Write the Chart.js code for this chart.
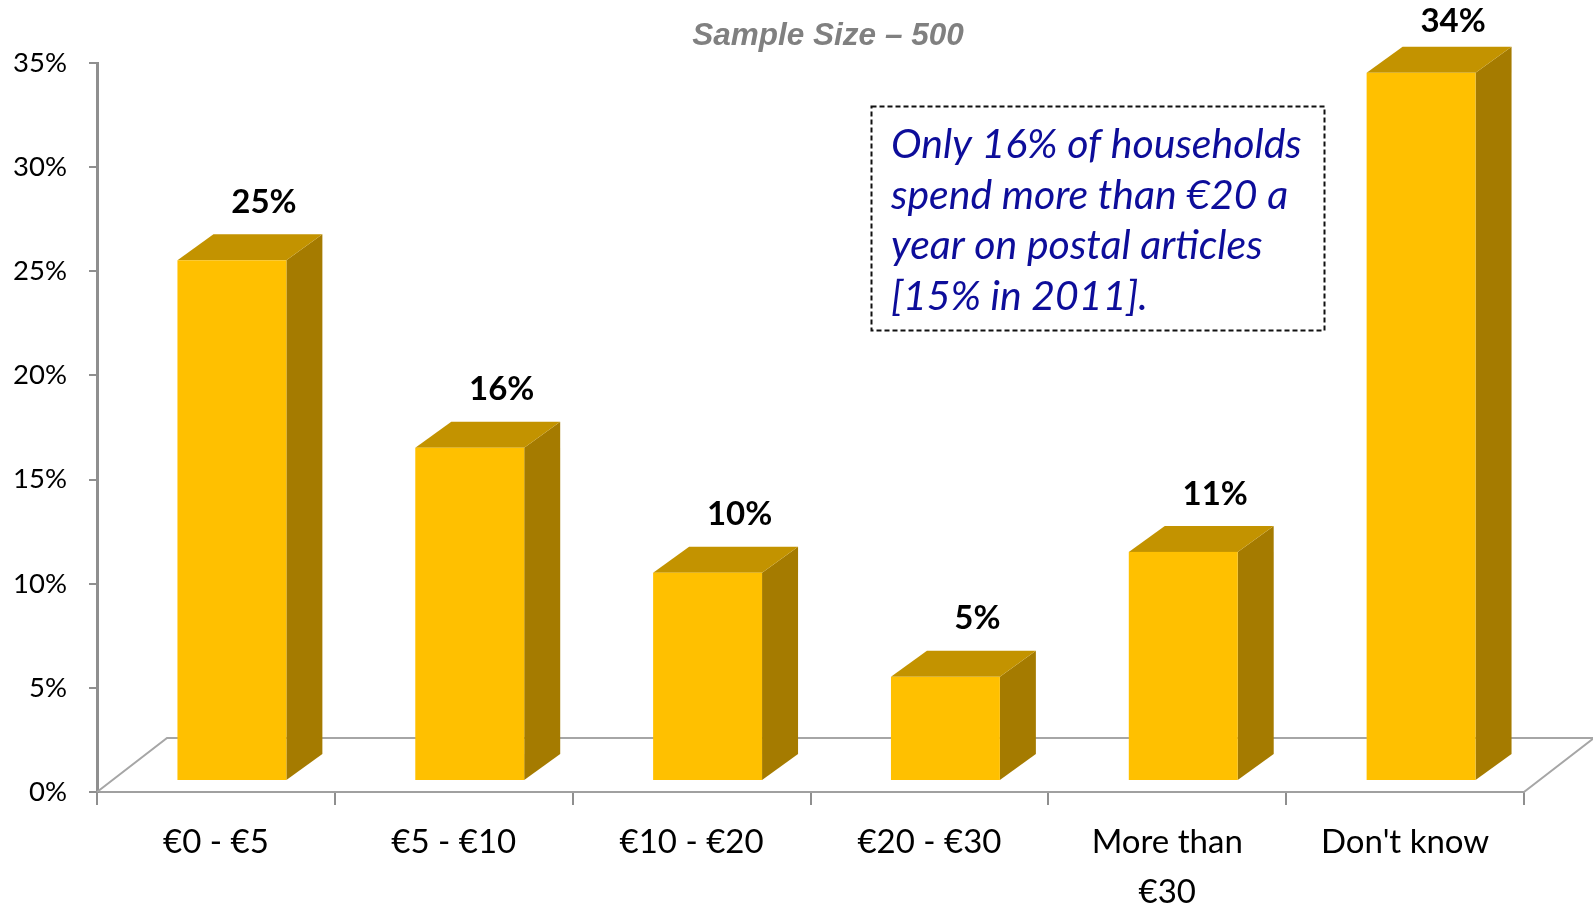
<!DOCTYPE html>
<html>
<head>
<meta charset="utf-8">
<script src="https://cdn.jsdelivr.net/npm/chart.js@4/dist/chart.umd.min.js"></script>
<style>
  html, body { margin: 0; padding: 0; background: #ffffff; }
  canvas { display: block; }
</style>
</head>
<body>
<canvas id="chart" width="1593" height="904"></canvas>
<script>
// Household spend on postal articles per year
const categories = ['€0 - €5', '€5 - €10', '€10 - €20', '€20 - €30', ['More than', '€30'], "Don't know"];
const shares = [25, 16, 10, 5, 11, 34];
const valueLabels = ['25%', '16%', '10%', '5%', '11%', '34%'];
const yTicks = [0, 5, 10, 15, 20, 25, 30, 35];
const chartTitle = 'Sample Size – 500';
const noteLines = ['Only 16% of households', 'spend more than €20 a', 'year on postal articles', '[15% in 2011].'];

// 3D look: depth of the floor and of each column, in pixels
const FLOOR_DX = 70, FLOOR_DY = -54;
const BAR_SHIFT_X = 16, BAR_SHIFT_Y = -11;
const BAR_DX = 36, BAR_DY = -26;
const FACE = '#FFC000', TOP = '#C39300', SIDE = '#A57B00';
const AXIS_GREY = '#8f8f8f';

const floorPlugin = {
  id: 'floor',
  beforeDatasetsDraw(chart) {
    const { ctx, chartArea: a } = chart;
    ctx.save();
    ctx.strokeStyle = '#a6a6a6';
    ctx.lineWidth = 2;
    ctx.beginPath();
    ctx.moveTo(a.left, a.bottom);
    ctx.lineTo(a.left + FLOOR_DX, a.bottom + FLOOR_DY);
    ctx.lineTo(a.right + FLOOR_DX, a.bottom + FLOOR_DY);
    ctx.lineTo(a.right, a.bottom);
    ctx.stroke();
    ctx.restore();
  }
};

const columnsPlugin = {
  id: 'columns3d',
  afterDatasetsDraw(chart) {
    const { ctx } = chart;
    const meta = chart.getDatasetMeta(0);
    ctx.save();
    meta.data.forEach((bar, i) => {
      const { x, y, base, width } = bar.getProps(['x', 'y', 'base', 'width'], true);
      const l = x - width / 2 + BAR_SHIFT_X;
      const r = x + width / 2 + BAR_SHIFT_X;
      const t = y + BAR_SHIFT_Y;
      const b = base + BAR_SHIFT_Y;
      // side face
      ctx.fillStyle = SIDE;
      ctx.beginPath();
      ctx.moveTo(r, t); ctx.lineTo(r + BAR_DX, t + BAR_DY);
      ctx.lineTo(r + BAR_DX, b + BAR_DY); ctx.lineTo(r, b);
      ctx.closePath(); ctx.fill();
      // top face
      ctx.fillStyle = TOP;
      ctx.beginPath();
      ctx.moveTo(l, t); ctx.lineTo(l + BAR_DX, t + BAR_DY);
      ctx.lineTo(r + BAR_DX, t + BAR_DY); ctx.lineTo(r, t);
      ctx.closePath(); ctx.fill();
      // front face
      ctx.fillStyle = FACE;
      ctx.fillRect(l, t, r - l, b - t);

      // value label
      ctx.fillStyle = '#000000';
      ctx.font = 'bold 33px Lato, "Open Sans", sans-serif';
      ctx.textAlign = 'center';
      ctx.textBaseline = 'middle';
      const ly = Math.max(t - 58, 21);
      ctx.fillText(valueLabels[i], (l + r) / 2 + 32, ly);
    });
    ctx.restore();
  }
};

const textPlugin = {
  id: 'texts',
  afterDraw(chart) {
    const { ctx } = chart;
    ctx.save();
    // sample size heading
    ctx.fillStyle = '#808080';
    ctx.font = 'italic bold 31.5px "Liberation Sans", Arial, sans-serif';
    ctx.textAlign = 'center';
    ctx.textBaseline = 'middle';
    ctx.fillText(chartTitle, 828, 36);

    // note box
    ctx.strokeStyle = '#111111';
    ctx.lineWidth = 2;
    ctx.setLineDash([5, 3]);
    ctx.strokeRect(871.5, 106.5, 453, 224);
    ctx.setLineDash([]);
    ctx.fillStyle = '#0d0d9a';
    ctx.font = 'italic 41px Lato, "Open Sans", sans-serif';
    ctx.textAlign = 'left';
    ctx.textBaseline = 'alphabetic';
    noteLines.forEach((line, k) => ctx.fillText(line, 891, 158 + k * 50.5));
    ctx.restore();
  }
};

new Chart(document.getElementById('chart'), {
  type: 'bar',
  data: {
    labels: categories,
    datasets: [{
      data: shares,
      backgroundColor: 'rgba(0,0,0,0)',
      borderWidth: 0,
      barPercentage: 0.458,
      categoryPercentage: 1
    }]
  },
  options: {
    responsive: false,
    animation: false,
    events: [],
    layout: { padding: { top: 63, right: 69, left: 0, bottom: 0 } },
    plugins: {
      legend: { display: false },
      tooltip: { enabled: false },
      title: { display: false }
    },
    scales: {
      x: {
        grid: {
          offset: true,
          drawOnChartArea: false,
          drawTicks: true,
          tickLength: 13,
          color: AXIS_GREY,
          lineWidth: 2
        },
        border: { display: true, color: '#a0a0a0', width: 2 },
        ticks: {
          color: '#000000',
          font: { family: 'Lato, "Open Sans", sans-serif', size: 33, lineHeight: 1.5 },
          padding: 13,
          maxRotation: 0,
          autoSkip: false
        },
        afterFit(scale) { scale.height = 112; }
      },
      y: {
        min: 0,
        max: 35,
        afterBuildTicks(scale) { scale.ticks = yTicks.map(v => ({ value: v })); },
        grid: {
          drawOnChartArea: false,
          drawTicks: true,
          tickLength: 8,
          color: AXIS_GREY,
          lineWidth: 2
        },
        border: { display: true, color: AXIS_GREY, width: 3 },
        ticks: {
          color: '#000000',
          font: { family: 'Lato, "Open Sans", sans-serif', size: 27.5 },
          padding: 22,
          callback: v => v + '%'
        },
        afterFit(scale) { scale.width = 97; }
      }
    }
  },
  plugins: [floorPlugin, columnsPlugin, textPlugin]
});
</script>
</body>
</html>
